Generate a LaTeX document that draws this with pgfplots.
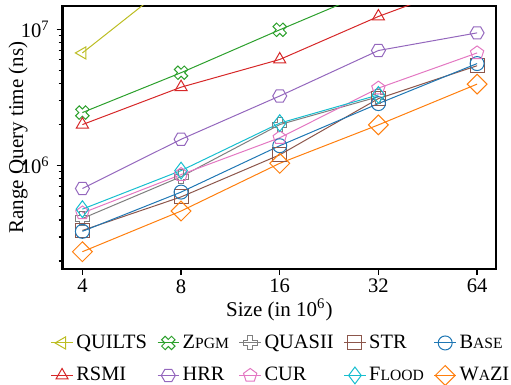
\documentclass[border=0pt]{standalone}
\usepackage{fontspec}
\setmainfont{Liberation Serif}
\usepackage{pgfplots}
\pgfplotsset{compat=1.18}
\definecolor{cquilts}{HTML}{BCBD22}
\definecolor{czpgm}{HTML}{2CA02C}
\definecolor{cquasii}{HTML}{7F7F7F}
\definecolor{cstr}{HTML}{8C564B}
\definecolor{cbase}{HTML}{1F77B4}
\definecolor{crsmi}{HTML}{D62728}
\definecolor{chrr}{HTML}{9467BD}
\definecolor{ccur}{HTML}{E377C2}
\definecolor{cflood}{HTML}{17BECF}
\definecolor{cwazi}{HTML}{FF7F0E}
\newcommand\sct[1]{{\fontsize{7.8pt}{8pt}\selectfont #1}}
\pgfdeclareplotmark{fatplus}{%
  \pgfmathsetmacro\ma{\pgfplotmarksize}%
  \pgfmathsetmacro\mb{0.36*\pgfplotmarksize}%
  \pgfpathmoveto{\pgfqpoint{\mb pt}{\ma pt}}%
  \pgfpathlineto{\pgfqpoint{\mb pt}{\mb pt}}%
  \pgfpathlineto{\pgfqpoint{\ma pt}{\mb pt}}%
  \pgfpathlineto{\pgfqpoint{\ma pt}{-\mb pt}}%
  \pgfpathlineto{\pgfqpoint{\mb pt}{-\mb pt}}%
  \pgfpathlineto{\pgfqpoint{\mb pt}{-\ma pt}}%
  \pgfpathlineto{\pgfqpoint{-\mb pt}{-\ma pt}}%
  \pgfpathlineto{\pgfqpoint{-\mb pt}{-\mb pt}}%
  \pgfpathlineto{\pgfqpoint{-\ma pt}{-\mb pt}}%
  \pgfpathlineto{\pgfqpoint{-\ma pt}{\mb pt}}%
  \pgfpathlineto{\pgfqpoint{-\mb pt}{\mb pt}}%
  \pgfpathlineto{\pgfqpoint{-\mb pt}{\ma pt}}%
  \pgfpathclose\pgfusepathqstroke}
\pgfdeclareplotmark{hexflat}{%
  \pgfpathmoveto{\pgfpointpolar{0}{\pgfplotmarksize}}%
  \pgfpathlineto{\pgfpointpolar{60}{\pgfplotmarksize}}%
  \pgfpathlineto{\pgfpointpolar{120}{\pgfplotmarksize}}%
  \pgfpathlineto{\pgfpointpolar{180}{\pgfplotmarksize}}%
  \pgfpathlineto{\pgfpointpolar{240}{\pgfplotmarksize}}%
  \pgfpathlineto{\pgfpointpolar{300}{\pgfplotmarksize}}%
  \pgfpathclose\pgfusepathqstroke}
\pgfdeclareplotmark{pent}{%
  \pgfpathmoveto{\pgfpointpolar{90}{\pgfplotmarksize}}%
  \pgfpathlineto{\pgfpointpolar{162}{\pgfplotmarksize}}%
  \pgfpathlineto{\pgfpointpolar{234}{\pgfplotmarksize}}%
  \pgfpathlineto{\pgfpointpolar{306}{\pgfplotmarksize}}%
  \pgfpathlineto{\pgfpointpolar{18}{\pgfplotmarksize}}%
  \pgfpathclose\pgfusepathqstroke}
\begin{document}
\begin{tikzpicture}
\begin{axis}[
  scale only axis, width=216.7pt, height=131.5pt,
  xmode=log, log basis x=2, ymode=log,
  xmin=3.483, xmax=73.1, ymin=1.75e5, ymax=1.48e7,
  xtick={4,8,16,32,64}, xticklabels={4,8,16,32,64},
  ytick={1e6,1e7}, yticklabels={10\textsuperscript{6},10\textsuperscript{7}},
  minor ytick={2e5,3e5,4e5,5e5,6e5,7e5,8e5,9e5,2e6,3e6,4e6,5e6,6e6,7e6,8e6,9e6},
  axis line style={line width=1.2pt},
  tick style={black, line width=0.6pt},
  tick align=outside, xtick pos=bottom, ytick pos=left,
  major tick length=3pt, minor tick length=2pt,
  ticklabel style={font=\fontsize{10.3pt}{12pt}\selectfont},
  xticklabel style={inner sep=0.5pt, yshift=-1.5pt},
  xlabel={Size (in 10\textsuperscript{6})},
  ylabel={Range Query time (ns)},
  label style={font=\fontsize{10.5pt}{12pt}\selectfont},
  xlabel style={at={(axis description cs:0.5,-0.18)}, anchor=base, inner sep=0pt, text height=1.2ex},
  ylabel style={at={(axis description cs:-0.103,0.5)}, anchor=center, inner sep=0pt},
  every axis plot/.append style={line width=0.5pt, mark size=3.5pt},
  legend image code/.code={\draw[mark repeat=2,mark phase=2] plot coordinates {(0cm,0cm)(0.19cm,0cm)(0.38cm,0cm)};},
  legend style={draw=none, fill=none, at={(0.505,-0.222)}, anchor=north,
    legend columns=5, /tikz/every even column/.append style={column sep=3.5pt},
    nodes={inner sep=1.5pt}, row sep=5pt, font=\fontsize{10.2pt}{12pt}\selectfont},
  legend cell align=left,
]
\addplot[color=cquilts, mark=triangle, mark options={rotate=90}] coordinates {(4,6.7e6)(8,2.5e7)};
\addlegendentry{QUILTS}
\addplot[color=czpgm, mark=fatplus, mark options={rotate=45}] coordinates {(4,2.45e6)(8,4.8e6)(16,9.9e6)(32,2.0e7)};
\addlegendentry{Z\sct{PGM}}
\addplot[color=cquasii, mark=fatplus] coordinates {(4,4.1e5)(8,8.3e5)(16,2.0e6)(32,3.2e6)};
\addlegendentry{QUASII}
\addplot[color=cstr, mark=square] coordinates {(4,3.35e5)(8,5.9e5)(16,1.2e6)(32,3.1e6)(64,5.4e6)};
\addlegendentry{STR}
\addplot[color=cbase, mark=o] coordinates {(4,3.3e5)(8,6.4e5)(16,1.4e6)(32,2.85e6)(64,5.6e6)};
\addlegendentry{B\sct{ASE}}
\addplot[color=crsmi, mark=triangle] coordinates {(4,2.0e6)(8,3.76e6)(16,6.0e6)(32,1.24e7)(64,2.3e7)};
\addlegendentry{RSMI}
\addplot[color=chrr, mark=hexflat] coordinates {(4,6.8e5)(8,1.56e6)(16,3.24e6)(32,6.98e6)(64,9.4e6)};
\addlegendentry{HRR}
\addplot[color=ccur, mark=pent] coordinates {(4,4.5e5)(8,8.6e5)(16,1.6e6)(32,3.7e6)(64,6.7e6)};
\addlegendentry{CUR}
\addplot[color=cflood, mark=diamond, mark options={scale=1.2}] coordinates {(4,4.8e5)(8,9.2e5)(16,2.05e6)(32,3.3e6)};
\addlegendentry{F\sct{LOOD}}
\addplot[color=cwazi, mark=square, mark options={rotate=45}] coordinates {(4,2.34e5)(8,4.65e5)(16,1.04e6)(32,1.99e6)(64,3.96e6)};
\addlegendentry{W\sct{A}ZI}
\end{axis}
\pgfresetboundingbox
\path[use as bounding box] ([xshift=-31.35pt,yshift=-58pt]current axis.south west) rectangle ([xshift=7.5pt,yshift=3pt]current axis.north east);
\end{tikzpicture}
\end{document}
